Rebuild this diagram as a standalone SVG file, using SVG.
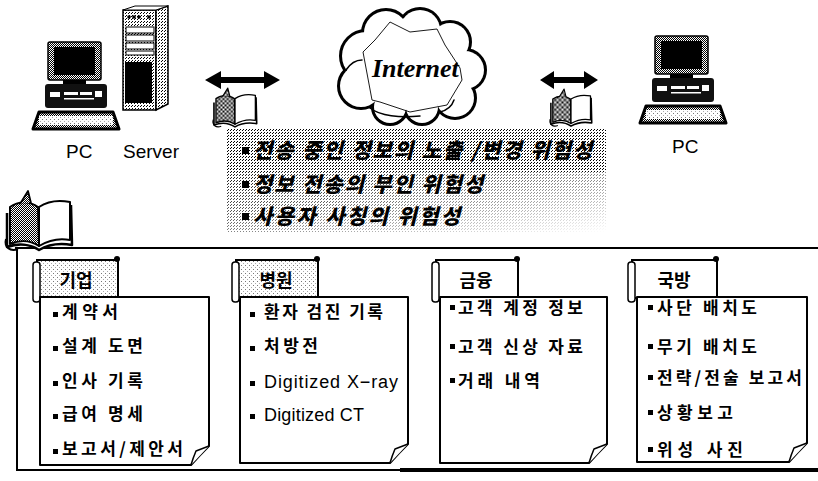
<svg xmlns="http://www.w3.org/2000/svg" xmlns:xlink="http://www.w3.org/1999/xlink" width="818" height="481" viewBox="0 0 818 481">
  <style>
    .lbl { font-family: "Liberation Sans", Arial, sans-serif; font-size: 19px; fill: #000; }
    .risk { font-family: "Noto Sans CJK KR", sans-serif; font-size: 21px; font-weight: 900; font-style: italic; fill: #000; }
    .tab-t { font-family: "Noto Sans CJK KR", sans-serif; font-size: 18px; font-weight: 700; fill: #000; text-anchor: middle; }
    .item { font-family: "Noto Sans CJK KR", sans-serif; font-size: 17px; font-weight: 700; fill: #000; }
    .item-b { font-family: "Noto Sans CJK KR", sans-serif; font-size: 17px; font-weight: 700; fill: #000; }
    .item-l { font-family: "Liberation Sans", Arial, "Noto Sans CJK KR", sans-serif; font-size: 18px; fill: #000; }
    .card { fill: #fff; stroke: #000; stroke-width: 2; stroke-linejoin: round; }
    .fold { fill: #fff; stroke: #000; stroke-width: 1.5; stroke-linejoin: round; }
    .tab { stroke: #000; stroke-width: 2; }
    .roll { fill: #fff; stroke: #000; stroke-width: 1.5; }
    .bul { fill: #000; }
    .ink { fill: none; stroke: #000; stroke-width: 1.5; stroke-linejoin: round; stroke-linecap: round; }
  </style>
  <defs>
    <!-- dithered greys -->
    <pattern id="ht" width="2" height="2" patternUnits="userSpaceOnUse">
      <rect width="2" height="2" fill="#fff"/>
      <rect width="1" height="1" fill="#000"/>
      <rect x="1" y="1" width="1" height="1" fill="#000"/>
    </pattern>
    <pattern id="ht-mid" width="3" height="3" patternUnits="userSpaceOnUse">
      <rect width="3" height="3" fill="#fff"/>
      <rect width="1" height="1" fill="#000"/>
      <rect x="2" y="1" width="1" height="1" fill="#000"/>
    </pattern>
    <pattern id="ht-light" width="4" height="4" patternUnits="userSpaceOnUse">
      <rect width="4" height="4" fill="#fff"/>
      <rect x="1" y="1" width="1" height="1" fill="#777"/>
      <rect x="3" y="3" width="1" height="1" fill="#aaa"/>
    </pattern>
    <linearGradient id="fadeG" x1="0" y1="0" x2="1" y2="1">
      <stop offset="0" stop-color="#fff" stop-opacity="0.9"/>
      <stop offset="0.4" stop-color="#fff" stop-opacity="0.6"/>
      <stop offset="1" stop-color="#fff" stop-opacity="0"/>
    </linearGradient>
    <mask id="fadeM" maskUnits="userSpaceOnUse" x="220" y="120" width="400" height="120">
      <rect x="226" y="128" width="380" height="44" fill="#fff"/>
      <rect x="226" y="172" width="380" height="60" fill="url(#fadeG)"/>
    </mask>

    <!-- desktop computer -->
    <symbol id="pc" viewBox="0 0 86 90" overflow="visible">
      <rect x="15" y="0" width="53" height="38" rx="2" fill="url(#ht)" stroke="#000" stroke-width="1.5"/>
      <rect x="21" y="5" width="41" height="28" fill="#000"/>
      <rect x="30" y="38" width="23" height="5" fill="#000"/>
      <rect x="12" y="42" width="62" height="24" rx="3" fill="#111"/>
      <rect x="17" y="50" width="10" height="5" fill="#fff"/>
      <rect x="31" y="50" width="14" height="3" fill="#fff"/>
      <rect x="47" y="50" width="12" height="3" fill="#fff"/>
      <rect x="62" y="49" width="7" height="6" fill="#fff"/>
      <rect x="31" y="56" width="30" height="1.5" fill="#fff"/>
      <path d="M6,70 L80,70 L86,87 L0,87 Z" fill="url(#ht)" stroke="#000" stroke-width="3" stroke-linejoin="round"/>
      <rect x="6" y="74" width="74" height="9" fill="url(#ht-light)"/>
    </symbol>

    <!-- open book -->
    <symbol id="book" viewBox="0 0 70 62" overflow="visible">
      <path d="M3,22 L3,56 C14,52 26,53 35,59 C45,53 56,52 68,54 L67,14" fill="#fff" stroke="#000" stroke-width="2.5" stroke-linejoin="round"/>
      <path d="M6,16 C14,10 26,10 34,16 L35,55 C26,49 15,49 6,53 Z" fill="url(#ht)" stroke="#000" stroke-width="2" stroke-linejoin="round"/>
      <path d="M16,13 L24,0 L27,12" fill="url(#ht)" stroke="#000" stroke-width="1.8" stroke-linejoin="round"/>
      <path d="M35,16 C44,10 56,9 66,11 L66,49 C56,47 45,49 35,55 Z" fill="#fff" stroke="#000" stroke-width="2" stroke-linejoin="round"/>
      <path d="M2,48 C0,56 6,61 14,58" fill="none" stroke="#000" stroke-width="2"/>
    </symbol>
  </defs>

  <rect width="818" height="481" fill="#fff"/>

  <!-- hosts -->
  <g id="pc-left">
    <use href="#pc" x="33" y="42" width="86" height="90"/>
    <text class="lbl" x="66" y="158">PC</text>
  </g>

  <g id="server">
    <rect x="123" y="10" width="33" height="100" fill="url(#ht-mid)" stroke="#000" stroke-width="1.5"/>
    <polygon points="156,10 168,6 168,104 156,110" fill="url(#ht-mid)" stroke="#000" stroke-width="1.5"/>
    <polygon points="123,10 135,6 168,6 156,10" fill="#fff" stroke="#000" stroke-width="1"/>
    <circle cx="129" cy="17" r="1.8" fill="#000"/>
    <circle cx="134" cy="17" r="1.8" fill="#000"/>
    <circle cx="139" cy="17" r="1.8" fill="#000"/>
    <circle cx="149" cy="17" r="1.8" fill="#000"/>
    <rect x="126" y="27" width="28" height="6" fill="#fff" stroke="#000" stroke-width="1"/>
    <rect x="126" y="35" width="28" height="6" fill="#fff" stroke="#000" stroke-width="1"/>
    <rect x="126" y="43" width="28" height="6" fill="#fff" stroke="#000" stroke-width="1"/>
    <rect x="126" y="51" width="28" height="4" fill="#fff" stroke="#000" stroke-width="1"/>
    <rect x="125" y="62" width="27" height="41" fill="#000"/>
    <text class="lbl" x="123" y="158">Server</text>
  </g>

  <g id="pc-right">
    <use href="#pc" x="640" y="36" width="86" height="90"/>
    <text class="lbl" x="672" y="153">PC</text>
  </g>

  <g id="internet">
    <g stroke="#000" stroke-width="6" fill="#fff">
      <circle cx="410" cy="64" r="46"/>
      <circle cx="366" cy="56" r="24"/>
      <circle cx="361" cy="86" r="21"/>
      <circle cx="386" cy="33" r="22"/>
      <circle cx="420" cy="30" r="20"/>
      <circle cx="450" cy="42" r="19"/>
      <circle cx="465" cy="70" r="19"/>
      <circle cx="455" cy="98" r="19"/>
      <circle cx="422" cy="107" r="16"/>
      <circle cx="390" cy="107" r="16"/>
    </g>
    <g fill="#fff">
      <circle cx="410" cy="64" r="46"/>
      <circle cx="366" cy="56" r="24"/>
      <circle cx="361" cy="86" r="21"/>
      <circle cx="386" cy="33" r="22"/>
      <circle cx="420" cy="30" r="20"/>
      <circle cx="450" cy="42" r="19"/>
      <circle cx="465" cy="70" r="19"/>
      <circle cx="455" cy="98" r="19"/>
      <circle cx="422" cy="107" r="16"/>
      <circle cx="390" cy="107" r="16"/>
    </g>
    <g class="ink" stroke-width="1.5">
      <path d="M370,108 C380,116 400,118 420,116"/>
      <path d="M440,112 C448,110 452,106 454,100"/>
      <path d="M346,70 C350,64 356,60 362,60"/>
    </g>
    <polygon points="390,22 410,32 437,29 445,45 460,68 462,80 447,105 410,112 380,102 372,100 363,52 375,40" fill="none" stroke="#000" stroke-width="0.9"/>
    <text x="372" y="77" font-family="'Liberation Serif', 'Times New Roman', serif" font-size="26" font-weight="700" font-style="italic" fill="#000">Internet</text>
  </g>

  <!-- traffic between hosts -->
  <g id="links">
    <path d="M205,80 L221,71 L221,77 L264,77 L264,71 L280,80 L264,89 L264,83 L221,83 L221,89 Z" fill="#000"/>
    <path d="M540,80 L554,71 L554,77 L584,77 L584,71 L598,80 L584,89 L584,83 L554,83 L554,89 Z" fill="#000"/>
  </g>
  <g id="data-left"><use href="#book" x="212" y="88" width="46" height="41"/></g>
  <g id="data-right"><use href="#book" x="549" y="88" width="44" height="41"/></g>

  <!-- threats -->
  <g id="threats">
    <rect x="226" y="128" width="380" height="104" fill="url(#ht-mid)" mask="url(#fadeM)"/>
    <rect x="242" y="147" width="7" height="7" class="bul"/>
    <rect x="242" y="181" width="7" height="7" class="bul"/>
    <rect x="242" y="213" width="7" height="7" class="bul"/>
    <text class="risk" x="253" y="158" textLength="339" lengthAdjust="spacing">전송 중인 정보의 노출 /변경 위험성</text>
    <text class="risk" x="253" y="192" textLength="230" lengthAdjust="spacing">정보 전송의 부인 위험성</text>
    <text class="risk" x="253" y="224" textLength="207" lengthAdjust="spacing">사용자 사칭의 위험성</text>
  </g>

  <!-- assets frame -->
  <g id="frame">
    <path d="M15,248 H818" stroke="#000" stroke-width="2"/>
    <path d="M17,248 V471" stroke="#000" stroke-width="2"/>
    <path d="M16,470 H400" stroke="#000" stroke-width="2"/>
    <path d="M400,470 H818" stroke="#000" stroke-width="4"/>
    <use href="#book" x="4" y="190" width="70" height="64"/>
  </g>

  <g id="card-company">
    <rect class="tab" x="37" y="260" width="81" height="38" fill="url(#ht-light)"/>
    <circle cx="117" cy="259" r="3" fill="#000"/>
    <rect class="roll" x="33" y="262" width="7" height="40" rx="3"/>
    <text class="tab-t" x="76" y="287">기업</text>
    <path class="card" d="M40,297 H209 V446 Q199,456 191,465 H40 Z"/>
    <path class="fold" d="M209,446 L196,451 Q193,458 191,465"/>
    <rect class="bul" x="53" y="312" width="5" height="5"/>
    <text class="item" x="62" y="318" textLength="56" lengthAdjust="spacing">계약서</text>
    <rect class="bul" x="53" y="346" width="5" height="5"/>
    <text class="item" x="62" y="352" textLength="81" lengthAdjust="spacing">설계 도면</text>
    <rect class="bul" x="53" y="381" width="5" height="5"/>
    <text class="item" x="62" y="387" textLength="81" lengthAdjust="spacing">인사 기록</text>
    <rect class="bul" x="53" y="414" width="5" height="5"/>
    <text class="item" x="62" y="420" textLength="81" lengthAdjust="spacing">급여 명세</text>
    <rect class="bul" x="53" y="449" width="5" height="5"/>
    <text class="item" x="62" y="455" textLength="121" lengthAdjust="spacing">보고서/제안서</text>
  </g>

  <g id="card-hospital">
    <rect class="tab" x="236" y="260" width="82" height="38" fill="url(#ht-light)"/>
    <circle cx="317" cy="259" r="3" fill="#000"/>
    <rect class="roll" x="232" y="262" width="7" height="40" rx="3"/>
    <text class="tab-t" x="276" y="287">병원</text>
    <path class="card" d="M240,297 H408 V444 Q398,454 390,463 H240 Z"/>
    <path class="fold" d="M408,444 L395,449 Q392,456 390,463"/>
    <rect class="bul" x="250" y="312" width="5" height="5"/>
    <text class="item" x="264" y="318" textLength="119" lengthAdjust="spacing">환자 검진 기록</text>
    <rect class="bul" x="250" y="346" width="5" height="5"/>
    <text class="item" x="264" y="352" textLength="54" lengthAdjust="spacing">처방전</text>
    <rect class="bul" x="250" y="381" width="5" height="5"/>
    <text class="item-l" x="264" y="388" textLength="134" lengthAdjust="spacing">Digitized X−ray</text>
    <rect class="bul" x="250" y="414" width="5" height="5"/>
    <text class="item-l" x="264" y="421" textLength="100" lengthAdjust="spacing">Digitized CT</text>
  </g>

  <g id="card-finance">
    <rect class="tab" x="436" y="260" width="82" height="38" fill="#fff"/>
    <circle cx="517" cy="259" r="3" fill="#000"/>
    <rect class="roll" x="432" y="262" width="7" height="40" rx="3"/>
    <text class="tab-t" x="476" y="287">금융</text>
    <path class="card" d="M440,297 H607 V444 Q597,454 589,463 H440 Z"/>
    <path class="fold" d="M607,444 L594,449 Q591,456 589,463"/>
    <rect class="bul" x="450" y="305" width="5" height="5"/>
    <text class="item-b" x="458" y="314" textLength="125" lengthAdjust="spacing">고객 계정 정보</text>
    <rect class="bul" x="450" y="344" width="5" height="5"/>
    <text class="item-b" x="458" y="353" textLength="125" lengthAdjust="spacing">고객 신상 자료</text>
    <rect class="bul" x="450" y="378" width="5" height="5"/>
    <text class="item-b" x="458" y="387" textLength="82" lengthAdjust="spacing">거래 내역</text>
  </g>

  <g id="card-defense">
    <rect class="tab" x="632" y="260" width="85" height="38" fill="#fff"/>
    <circle cx="716" cy="259" r="3" fill="#000"/>
    <rect class="roll" x="628" y="262" width="7" height="40" rx="3"/>
    <text class="tab-t" x="674" y="287">국방</text>
    <path class="card" d="M637,297 H807 V443 Q797,453 789,462 H637 Z"/>
    <path class="fold" d="M807,443 L794,448 Q791,455 789,462"/>
    <rect class="bul" x="648" y="305" width="5" height="5"/>
    <text class="item-b" x="657" y="314" textLength="100" lengthAdjust="spacing">사단 배치도</text>
    <rect class="bul" x="648" y="344" width="5" height="5"/>
    <text class="item-b" x="657" y="353" textLength="100" lengthAdjust="spacing">무기 배치도</text>
    <rect class="bul" x="648" y="375" width="5" height="5"/>
    <text class="item-b" x="657" y="384" textLength="145" lengthAdjust="spacing">전략/전술 보고서</text>
    <rect class="bul" x="648" y="410" width="5" height="5"/>
    <text class="item-b" x="657" y="419" textLength="76" lengthAdjust="spacing">상황보고</text>
    <rect class="bul" x="648" y="447" width="5" height="5"/>
    <text class="item-b" x="657" y="456" textLength="86" lengthAdjust="spacing">위성 사진</text>
  </g>
</svg>
